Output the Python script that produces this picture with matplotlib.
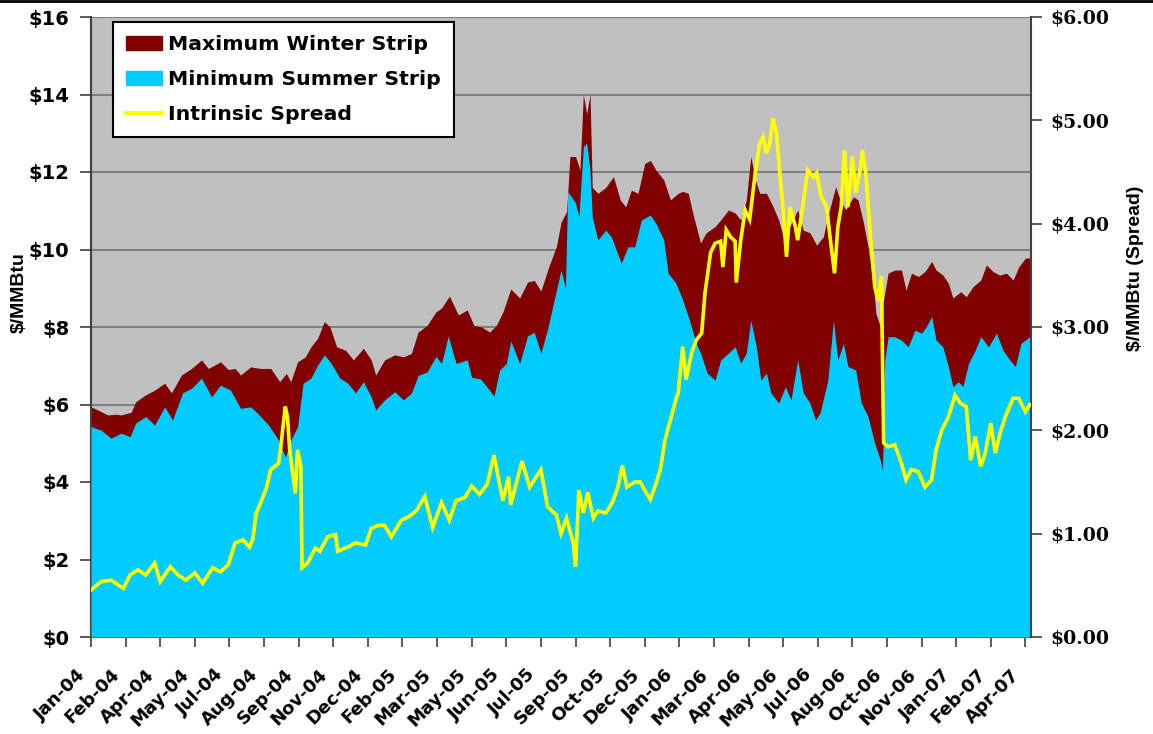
import matplotlib
matplotlib.use("Agg")
import matplotlib.pyplot as plt
from matplotlib.lines import Line2D
from matplotlib.patches import Patch

# ---------------- data (trading-day index since Jan-04) ----------------
tick_labels = ["Jan-04", "Feb-04", "Apr-04", "May-04", "Jul-04", "Aug-04", "Sep-04",
               "Nov-04", "Dec-04", "Feb-05", "Mar-05", "May-05", "Jun-05", "Jul-05",
               "Sep-05", "Oct-05", "Dec-05", "Jan-06", "Mar-06", "Apr-06", "May-06",
               "Jul-06", "Aug-06", "Oct-06", "Nov-06", "Jan-07", "Feb-07", "Apr-07"]
days_per_label = 31
last_day = 842

winter_day = [0, 6, 15, 22, 27, 36, 40, 49, 57, 66, 72, 81, 90, 99, 105, 116, 123, 129, 134, 143,
              152, 161, 169, 175, 179, 185, 192, 197, 203, 209, 214, 220, 228, 235, 244, 251, 255, 263, 272, 280, 287,
              293, 301, 309, 314, 321, 329, 337, 343, 350, 357, 363, 369, 376, 384, 391, 397, 403, 410, 417, 421, 426,
              429, 434, 438, 441, 444, 447, 449, 454, 461, 468, 474, 479, 484, 490, 496, 501, 506, 513, 519, 526, 530,
              535, 539, 546, 551, 559, 564, 571,
              577, 582, 587, 591, 595, 599, 605, 611, 616, 620, 626, 633, 638, 644, 650, 656, 660, 667, 671, 676, 683,
              687, 692, 696, 701, 703, 707, 710, 714,
              720, 726, 730, 735, 741, 747, 753, 757, 763, 768, 772, 779, 784, 790, 797, 802, 808, 814, 820, 826, 831,
              837, 841]
winter_val = [5.94, 5.86, 5.73, 5.75, 5.73, 5.80, 6.07, 6.25, 6.37, 6.55, 6.30, 6.76, 6.93, 7.15, 6.93, 7.10, 6.90, 6.93, 6.76, 6.97,
              6.93, 6.93, 6.59, 6.80, 6.59, 7.10, 7.23, 7.49, 7.71, 8.14, 8.00, 7.49, 7.40, 7.15, 7.45, 7.15, 6.76, 7.15, 7.28, 7.23, 7.32,
              7.87, 8.04, 8.39, 8.49, 8.80, 8.31, 8.44, 8.04, 8.00, 7.87, 8.04, 8.39, 8.98, 8.75, 9.16, 9.20, 8.93, 9.55, 10.09, 10.70, 10.98,
              12.40, 12.40, 12.05, 14.00, 13.50, 14.00, 11.60, 11.45, 11.60, 11.88, 11.28, 11.10, 11.53, 11.45, 12.22, 12.30, 12.05, 11.80, 11.28, 11.45, 11.50,
              11.45, 10.94, 10.17, 10.43, 10.59, 10.76, 11.02,
              10.94, 10.76, 11.28, 12.40, 11.80, 11.45, 11.45, 11.10, 10.76, 10.33, 10.59, 11.02, 10.50, 10.43, 10.11, 10.33, 10.85, 11.62, 11.28, 11.02, 11.36,
              11.28, 10.68, 10.07, 9.04, 8.36, 8.00, 8.70, 9.39,
              9.47, 9.47, 8.95, 9.39, 9.30, 9.43, 9.69, 9.47, 9.34, 9.13, 8.75, 8.91, 8.78, 9.04, 9.21, 9.60, 9.43, 9.34, 9.39, 9.21, 9.55,
              9.78, 9.78]

summer_day = [0, 9, 18, 27, 35, 40, 49, 57, 66, 73, 82, 90, 99, 108, 116, 125, 134, 143,
              149, 159, 168, 174, 179, 185, 190, 197, 203, 209, 215, 223, 230, 237, 244, 251, 255, 263, 272, 280, 287,
              293, 301, 309, 314, 320, 327, 337, 341, 349, 355, 361, 366, 372, 376, 384, 391, 397, 403, 409, 416, 421, 425,
              427, 434, 437, 441, 444, 447, 449, 454, 461, 466, 475, 481, 487, 493, 501, 506, 513, 517, 524, 530, 536, 542,
              546, 552, 559, 564, 571,
              577, 582, 587, 591, 596, 600, 605, 609, 616, 622, 627, 633, 638, 644, 649, 653, 660, 665, 669, 674, 678, 685,
              690, 696, 702, 707, 709, 711, 714,
              720, 726, 732, 738, 744, 748, 753, 757, 763, 768, 772, 777, 781, 786, 792, 797, 804, 811, 817, 823, 828, 833, 841]
summer_val = [5.43, 5.34, 5.13, 5.26, 5.17, 5.52, 5.69, 5.47, 5.94, 5.60, 6.30, 6.42, 6.68, 6.20, 6.50, 6.37, 5.90, 5.94,
              5.78, 5.47, 5.08, 4.65, 5.08, 5.43, 6.55, 6.68, 7.02, 7.28, 7.07, 6.68, 6.55, 6.30, 6.59, 6.20, 5.86, 6.12, 6.33, 6.12, 6.30,
              6.75, 6.84, 7.24, 7.06, 7.77, 7.06, 7.15, 6.70, 6.66, 6.44, 6.22, 6.89, 7.06, 7.64, 7.06, 7.77, 7.86, 7.33, 7.95, 8.84, 9.47, 9.02,
              11.50, 11.20, 10.85, 12.65, 12.75, 12.05, 10.85, 10.25, 10.50, 10.33, 9.65, 10.07, 10.07, 10.76, 10.89, 10.68, 10.25, 9.39, 9.13, 8.70, 8.18, 7.59,
              7.33, 6.81, 6.63, 7.15, 7.33,
              7.49, 7.07, 7.33, 8.18, 7.49, 6.63, 6.81, 6.30, 6.04, 6.46, 6.12, 7.15, 6.30, 6.04, 5.60, 5.78, 6.63, 8.18, 7.15, 7.58, 6.98, 6.89,
              6.04, 5.69, 5.00, 4.57, 4.30, 7.15, 7.75,
              7.75, 7.66, 7.49, 7.92, 7.84, 8.00, 8.27, 7.66, 7.49, 6.98, 6.46, 6.59, 6.46, 7.06, 7.40, 7.75, 7.49, 7.84, 7.40, 7.15, 6.98, 7.58, 7.75]

spread_day = [0, 9, 18, 29, 35, 42, 49, 57, 62, 71, 78, 85, 93, 100, 109, 116, 123, 129, 136, 142, 145, 148, 152, 157, 161,
              168, 170, 174, 176, 178, 183, 185, 188, 189, 194, 201, 205, 212, 219, 221, 230, 237, 246, 251, 257, 263, 269,
              278, 284, 289,
              292, 299, 306, 314, 321, 327, 335, 341, 348, 355, 361, 366, 369, 374, 376, 386, 393, 403, 409, 417, 421, 426,
              432, 434,
              437, 441, 445, 450, 454, 461, 467, 472, 476, 480, 487, 492, 496, 501, 505, 510, 514, 519, 524,
              526, 530, 533, 538, 542, 547, 550, 555, 559, 564, 566, 569, 573,
              577, 578, 582, 586, 590, 595, 599, 602, 605, 608, 611, 614, 617, 620, 623, 626, 631, 633, 638, 642, 647, 650,
              654, 659, 662, 666, 669, 672, 675, 678, 682, 685, 689, 691, 694, 698, 702, 705, 708, 709, 710, 714,
              720, 726, 730, 735, 741, 747, 753, 757, 762, 768, 774, 779, 784, 788, 792, 797, 801, 806, 810, 815, 820, 826,
              831, 837, 841]
spread_val = [0.455, 0.535, 0.55, 0.47, 0.60, 0.65, 0.60, 0.715, 0.535, 0.68, 0.60, 0.55, 0.62, 0.52, 0.67, 0.63, 0.70, 0.91, 0.94, 0.87, 0.95, 1.20, 1.30, 1.44, 1.62,
              1.68, 1.84, 2.23, 2.13, 1.81, 1.39, 1.81, 1.65, 0.67, 0.715, 0.86, 0.83, 0.97, 0.99, 0.83, 0.87, 0.91, 0.89, 1.05, 1.08, 1.08, 0.97,
              1.13, 1.16, 1.20,
              1.23, 1.36, 1.06, 1.30, 1.13, 1.32, 1.35, 1.46, 1.38, 1.48, 1.76, 1.48, 1.32, 1.55, 1.28, 1.70, 1.45, 1.62, 1.26, 1.18, 1.00, 1.15,
              0.91, 0.68,
              1.42, 1.20, 1.40, 1.15, 1.22, 1.20, 1.30, 1.45, 1.66, 1.45, 1.50, 1.50, 1.42, 1.33, 1.45, 1.62, 1.90, 2.10, 2.30,
              2.36, 2.81, 2.49, 2.75, 2.87, 2.94, 3.33, 3.72, 3.81, 3.83, 3.58, 3.94, 3.87,
              3.83, 3.43, 3.84, 4.13, 4.04, 4.49, 4.78, 4.84, 4.68, 4.78, 5.02, 4.88, 4.49, 4.13, 3.68, 4.16, 3.97, 3.84, 4.20, 4.52, 4.45, 4.49,
              4.26, 4.16, 3.87, 3.52, 3.97, 4.16, 4.71, 4.16, 4.65, 4.30, 4.52, 4.71, 4.49, 3.91, 3.39, 3.26, 3.49, 2.68, 1.88, 1.84,
              1.86, 1.68, 1.52, 1.62, 1.60, 1.45, 1.52, 1.81, 2.00, 2.13, 2.34, 2.26, 2.23, 1.71, 1.94, 1.65, 1.78, 2.07, 1.78, 2.00, 2.16, 2.31,
              2.31, 2.18, 2.25]

left_ticks = [0, 2, 4, 6, 8, 10, 12, 14, 16]
right_ticks = [0, 1, 2, 3, 4, 5, 6]

# ---------------- styling ----------------
MAROON = "#800000"
CYAN = "#00CCFF"
YELLOW = "#FFFF00"
BG = "#C0C0C0"
GRID = "#808080"
AXC = "#404040"

plt.rcParams["font.family"] = ["DejaVu Sans"]
plt.rcParams["font.weight"] = "bold"

W, H = 1153, 734
PT = 0.72  # points per pixel at dpi 100
fig = plt.figure(figsize=(W / 100, H / 100), dpi=100)
fig.patch.set_facecolor("white")
ax = fig.add_axes([91 / W, 1 - 637 / H, 940 / W, 620 / H])
ax.set_facecolor(BG)

ax.fill_between(winter_day, 0, winter_val, color=MAROON, lw=0, zorder=2)
ax.fill_between(summer_day, 0, summer_val, color=CYAN, lw=0, zorder=3)

ax.set_xlim(0, last_day)
ax.set_ylim(0, 16)
ax.set_yticks(left_ticks)
ax.set_yticklabels(["$%d" % v for v in left_ticks])
ax.yaxis.grid(True, color=GRID, lw=1.5)
ax.set_axisbelow(True)

xt = [i * days_per_label for i in range(len(tick_labels))]
ax.set_xticks(xt)
ax.set_xticklabels([""] * len(xt))
for d, lab in zip(xt, tick_labels):
    ax.annotate(lab, xy=(d, 0), xycoords=("data", "axes fraction"),
                xytext=(-8.5 * PT, -35 * PT), textcoords="offset points",
                rotation=45, ha="right", va="center", rotation_mode="anchor",
                fontsize=13, fontweight="bold", annotation_clip=False)
ax.tick_params(axis="x", direction="out", length=7, width=1.2, color=AXC)
ax.tick_params(axis="y", direction="out", length=8, width=1.2, color=AXC, pad=7.5,
               labelsize=14)
for lab in ax.get_yticklabels():
    lab.set_fontweight("bold")

for s in ["top", "right"]:
    ax.spines[s].set_visible(False)
for s in ["left", "bottom"]:
    ax.spines[s].set_color(AXC)
    ax.spines[s].set_linewidth(1.5)

ax2 = ax.twinx()
ax2.plot(spread_day, spread_val, color=YELLOW, lw=2.6, solid_joinstyle="miter", zorder=4)
ax2.set_ylim(0, 6)
ax2.set_xlim(0, last_day)
ax2.set_yticks(right_ticks)
ax2.set_yticklabels(["$%.2f" % v for v in right_ticks])
ax2.tick_params(axis="y", direction="out", length=8, width=1.2, color=AXC, pad=6,
                labelsize=13.6)
for lab in ax2.get_yticklabels():
    lab.set_fontweight("bold")
    lab.set_family("DejaVu Serif")
for s in ["top", "left", "bottom"]:
    ax2.spines[s].set_visible(False)
ax2.spines["right"].set_color(AXC)
ax2.spines["right"].set_linewidth(1.5)

fig.text(19 / W, 1 - 293 / H, "$/MMBtu", rotation=90, ha="center", va="center",
         fontsize=14, fontweight="bold", family="Liberation Sans")
fig.text(1136 / W, 1 - 268 / H, "$/MMBtu (Spread)", rotation=90, ha="center", va="center",
         fontsize=14, fontweight="bold", family="Liberation Sans")

handles = [Patch(facecolor=MAROON, edgecolor=MAROON),
           Patch(facecolor=CYAN, edgecolor=CYAN),
           Line2D([0], [0], color=YELLOW, lw=3)]
labels = ["Maximum Winter Strip", "Minimum Summer Strip", "Intrinsic Spread"]
leg = ax2.legend(handles, labels, loc="upper left", bbox_to_anchor=(0.0234, 0.992),
                 borderaxespad=0, fancybox=False, framealpha=1, edgecolor="black",
                 prop={"size": 14.7, "weight": "bold"}, handlelength=1.75,
                 handleheight=0.7, handletextpad=0.3, labelspacing=0.78,
                 borderpad=0.65)
leg.get_frame().set_linewidth(1.5)
leg.set_zorder(10)

fig.add_artist(Line2D([0, 1], [1 - 1 / H, 1 - 1 / H], transform=fig.transFigure,
                      color="black", lw=2))

fig.savefig("out.png", dpi=100, facecolor="white")
